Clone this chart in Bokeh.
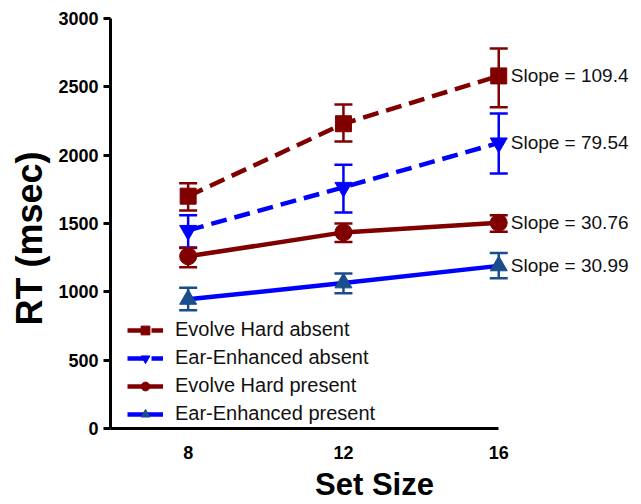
from bokeh.plotting import figure
from bokeh.models import ColumnDataSource, Whisker, TeeHead, Legend, LegendItem, Range1d, FixedTicker, Title
from bokeh.embed import file_html
from bokeh.resources import INLINE
from bokeh.core.properties import value

set_size = [8, 12, 16]

series_names = ["Evolve Hard absent", "Ear-Enhanced absent", "Evolve Hard present", "Ear-Enhanced present"]
evolve_absent = [1700, 2230, 2580]
evolve_absent_lo = [1595, 2100, 2350]
evolve_absent_hi = [1795, 2370, 2780]

ear_absent = [1450, 1765, 2090]
ear_absent_lo = [1325, 1580, 1865]
ear_absent_hi = [1560, 1930, 2305]

evolve_present = [1260, 1435, 1505]
evolve_present_lo = [1180, 1365, 1440]
evolve_present_hi = [1320, 1500, 1560]

ear_present = [945, 1065, 1190]
ear_present_lo = [865, 990, 1100]
ear_present_hi = [1030, 1135, 1285]

y_ticks = [0, 500, 1000, 1500, 2000, 2500, 3000]
slopes = ["Slope = 109.4", "Slope = 79.54", "Slope = 30.76", "Slope = 30.99"]
x_title = "Set Size"
y_title = "RT (msec)"

FONT = "Liberation Sans"
MAROON = "#800000"
BLUE = "#0000ff"
NAVY = "#1a4d8c"

p = figure(width=641, height=504, output_backend="svg", toolbar_location=None,
           x_range=Range1d(6, 19.6), y_range=Range1d(0, 3000),
           min_border_left=110, min_border_right=3, min_border_top=18, min_border_bottom=76)
p.outline_line_color = None
p.grid.visible = False
p.background_fill_color = "white"

# x axis
p.xaxis.bounds = (6, 16)
p.xaxis.ticker = FixedTicker(ticks=set_size)
p.xaxis.major_tick_line_color = None
p.xaxis.minor_tick_line_color = None
p.xaxis.axis_line_width = 3
p.xaxis.axis_line_color = "black"
p.xaxis.major_label_text_font = FONT
p.xaxis.major_label_text_font_style = "bold"
p.xaxis.major_label_text_font_size = "18px"
p.xaxis.major_label_text_color = "black"
p.xaxis.major_label_standoff = 11
p.xaxis.axis_label = x_title
p.xaxis.axis_label_text_font = FONT
p.xaxis.axis_label_text_font_style = "bold"
p.xaxis.axis_label_text_font_size = "31px"
p.xaxis.axis_label_text_color = "black"
p.xaxis.axis_label_standoff = 5

# y axis
p.yaxis.ticker = FixedTicker(ticks=y_ticks)
p.yaxis.axis_line_width = 3
p.yaxis.axis_line_color = "black"
p.yaxis.major_tick_line_width = 3
p.yaxis.major_tick_out = 7
p.yaxis.major_tick_in = 0
p.yaxis.minor_tick_line_color = None
p.yaxis.major_label_text_font = FONT
p.yaxis.major_label_text_font_style = "bold"
p.yaxis.major_label_text_font_size = "18px"
p.yaxis.major_label_text_color = "black"
p.yaxis.major_label_standoff = 5

# y title as a left-side title, shifted down like the reference
p.add_layout(Title(text=y_title, align="left", offset=103, standoff=11,
                   text_font=FONT, text_font_style="bold", text_font_size="36px",
                   text_color="black"), "left")

series = [
    (evolve_absent, evolve_absent_lo, evolve_absent_hi, MAROON, MAROON, MAROON, "16 8", "square", 16),
    (ear_absent, ear_absent_lo, ear_absent_hi, BLUE, BLUE, BLUE, "16 8", "inverted_triangle", 17),
    (evolve_present, evolve_present_lo, evolve_present_hi, MAROON, MAROON, MAROON, "solid", "circle", 17),
    (ear_present, ear_present_lo, ear_present_hi, BLUE, NAVY, NAVY, "solid", "triangle", 17),
]

items = []
for name, (y, lo, hi, lc, mc, ec, dash, marker, size) in zip(series_names, series):
    src = ColumnDataSource(dict(x=set_size, y=y, lo=lo, hi=hi))
    w = Whisker(base="x", lower="lo", upper="hi", source=src, dimension="height",
                line_color=ec, line_width=2.5,
                lower_head=TeeHead(size=18, line_color=ec, line_width=2.5),
                upper_head=TeeHead(size=18, line_color=ec, line_width=2.5))
    p.add_layout(w)
    r1 = p.line("x", "y", source=src, line_color=lc, line_width=4.5, line_dash=dash)
    r2 = p.scatter("x", "y", source=src, marker=marker, size=size, fill_color=mc, line_color=mc)
    items.append(LegendItem(label=name, renderers=[r1, r2]))

# slope labels
last_vals = [evolve_absent[-1], ear_absent[-1], evolve_present[-1], ear_present[-1]]
tsrc = ColumnDataSource(dict(x=[set_size[-1]] * 4, y=last_vals, t=slopes))
p.text("x", "y", text="t", source=tsrc, x_offset=12, text_baseline="middle", text_align="left",
       text_font=value(FONT), text_font_size="19px", text_color="#111111")

legend = Legend(items=items, location=(17, 3), orientation="vertical",
                label_text_font=FONT, label_text_font_size="20px", label_text_color="#111111",
                glyph_width=36, glyph_height=22, label_height=22, spacing=5, padding=2, margin=0,
                border_line_color=None, background_fill_alpha=0, label_standoff=12)
p.add_layout(legend)

open("out.html", "w").write(file_html(p, INLINE))
